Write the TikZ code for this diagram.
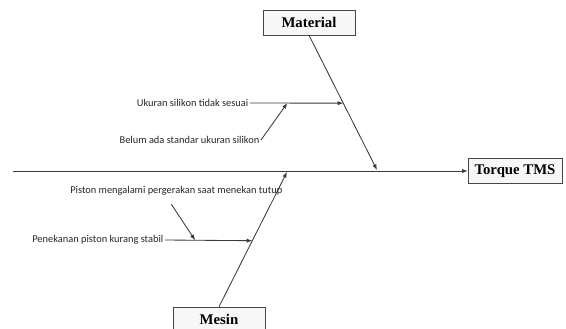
\documentclass[tikz,border=0pt]{standalone}
\usepackage{fontspec}
\setmainfont{Liberation Serif}
\newfontfamily\causefont{Carlito}
\usetikzlibrary{positioning,calc,arrows.meta}

\begin{document}
\begin{tikzpicture}[x=0.025cm, y=-0.025cm, >={Latex[length=4pt,width=3pt]},
    kategori/.style={draw=gray!55!black, fill=gray!6, minimum width=2.3cm, minimum height=0.625cm, inner sep=1pt, font=\fontsize{10.5}{12}\selectfont\bfseries},
    sebab/.style={inner sep=1pt, font=\causefont\fontsize{7.4}{8}\selectfont, text=black!85},
    garis/.style={draw=gray!45!black, line width=0.6pt}]
    \useasboundingbox (0,0) rectangle (566,329);

    % kepala dan tulang utama
    \node[kategori, minimum width=2.35cm] (torque) at (515,171) {Torque TMS};
    \coordinate (ekor) at (13,171);
    \draw[garis,->] (ekor) -- (torque.west);

    % Material
    \node[kategori] (material) at (309,22.5) {Material};
    \coordinate (matujung) at (377,170);
    \draw[garis,->] (material.south) -- (matujung);

    \node[sebab, anchor=east] (ukuran) at (250,103) {Ukuran silikon tidak sesuai};
    \coordinate (ukujung) at ($(material.south)!0.504!(matujung)$);
    \draw[garis,->] (ukuran.east) -- (ukujung);

    \node[sebab, anchor=east] (belum) at (261,140) {Belum ada standar ukuran silikon};
    \coordinate (blmujung) at ($(ukuran.east)!0.4!(ukujung)$);
    \draw[garis,->] (belum.east) -- (blmujung);

    % Mesin
    \node[kategori] (mesin) at (219,319.5) {Mesin};
    \coordinate (msnujung) at (287,172);
    \draw[garis,->] (mesin.north) -- (msnujung);

    \node[sebab, anchor=east] (penekanan) at (165,240) {Penekanan piston kurang stabil};
    \coordinate (pnkujung) at ($(mesin.north)!0.49!(msnujung)$);
    \draw[garis,->] (penekanan.east) -- (pnkujung);

    \node[sebab, anchor=east] (piston) at (284,191) {Piston mengalami pergerakan saat menekan tutup};
    \coordinate (pstawal) at ($(piston.south)+(-5,7)$);
    \coordinate (pstujung) at ($(penekanan.east)!0.345!(pnkujung)$);
    \draw[garis,->] (pstawal) -- (pstujung);
\end{tikzpicture}
\end{document}
